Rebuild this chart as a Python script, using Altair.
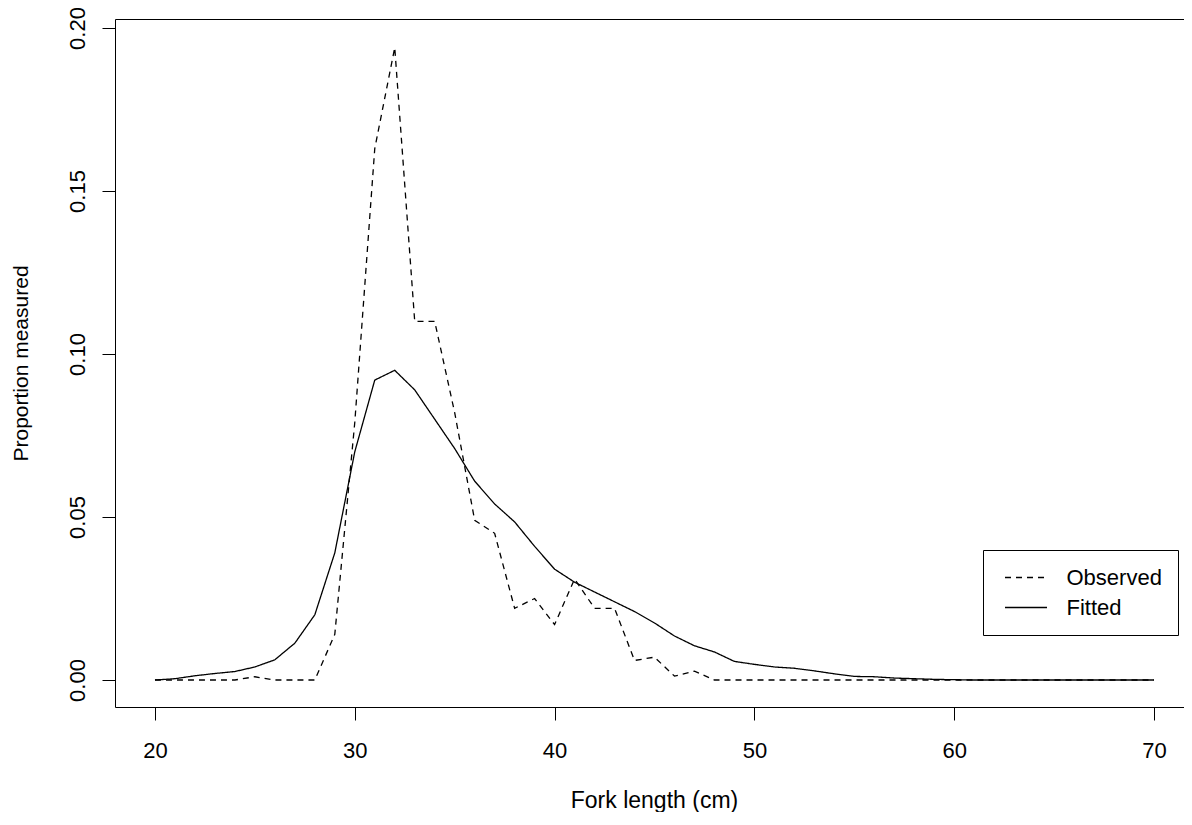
import altair as alt
import pandas as pd

FONT = "Liberation Sans"

# Fork length (cm)
lengths = [20, 21, 22, 23, 24, 25, 26, 27, 28, 29,
           30, 31, 32, 33, 34, 35, 36, 37, 38, 39,
           40, 41, 42, 43, 44, 45, 46, 47, 48, 49,
           50, 51, 52, 53, 54, 55, 56, 57, 58, 59,
           60, 61, 62, 63, 64, 65, 66, 67, 68, 69, 70]

observed = [0.0, 0.0, 0.0, 0.0, 0.0, 0.001, 0.0, 0.0, 0.0, 0.014,
            0.079, 0.163, 0.194, 0.110, 0.110, 0.082, 0.049, 0.045, 0.022, 0.025,
            0.017, 0.031, 0.022, 0.022, 0.006, 0.007, 0.0012, 0.0027, 0.0, 0.0,
            0.0, 0.0, 0.0, 0.0, 0.0, 0.0, 0.0, 0.0, 0.0, 0.0,
            0.0, 0.0, 0.0, 0.0, 0.0, 0.0, 0.0, 0.0, 0.0, 0.0, 0.0]

fitted = [0.0, 0.0004, 0.0013, 0.002, 0.0026, 0.004, 0.0062, 0.0113, 0.020, 0.039,
          0.070, 0.092, 0.095, 0.089, 0.080, 0.071, 0.061, 0.054, 0.0485, 0.041,
          0.034, 0.030, 0.027, 0.024, 0.021, 0.0175, 0.0135, 0.0105, 0.0086, 0.0057,
          0.0048, 0.004, 0.0036, 0.0028, 0.0019, 0.0011, 0.001, 0.0006, 0.0004, 0.0002,
          0.0001, 0.0, 0.0, 0.0, 0.0, 0.0, 0.0, 0.0, 0.0, 0.0, 0.0]

series_names = ["Observed", "Fitted"]
x_ticks = [20, 30, 40, 50, 60, 70]
y_ticks = [0.0, 0.05, 0.10, 0.15, 0.20]

df = pd.DataFrame({
    "length": lengths + lengths,
    "proportion": observed + fitted,
    "series": [series_names[0]] * len(lengths) + [series_names[1]] * len(lengths),
})

x_scale = alt.Scale(domain=[18, 71.5], nice=False, zero=False)
y_scale = alt.Scale(domain=[-0.00828, 0.20276], nice=False, zero=False)

y_enc = alt.Y(
    "proportion:Q",
    scale=y_scale,
    axis=alt.Axis(
        values=y_ticks, format=".2f", title="Proportion measured",
        labelAngle=270, labelAlign="center", labelBaseline="alphabetic",
        labelPadding=18, tickSize=13, labelFontSize=22,
        titleFontSize=21, titleAngle=270, titleBaseline="alphabetic",
        titleX=-88, titleY=344, titleAlign="center",
    ),
)

lines = alt.Chart(df).mark_line(color="black", strokeWidth=1.3).encode(
    x=alt.X(
        "length:Q",
        scale=x_scale,
        axis=alt.Axis(
            values=x_ticks, title="Fork length  (cm)", tickSize=13,
            labelPadding=20, labelBaseline="top", labelFontSize=22,
            labelFlush=False, titleFontSize=23, titleBaseline="alphabetic",
            titleY=100, titleX=539, titleAlign="center",
        ),
    ),
    y=y_enc,
    strokeDash=alt.StrokeDash(
        "series:N",
        scale=alt.Scale(domain=series_names, range=[[6, 5], [1, 0]]),
        legend=alt.Legend(
            title=None, orient="none", legendX=868, legendY=531,
            symbolType="M-2,0H2", symbolSize=441, symbolStrokeWidth=1.3,
            symbolStrokeColor="black", labelFontSize=22, labelFont=FONT,
            labelColor="black", padding=16, strokeColor="black",
            fillColor="white", rowPadding=7, symbolOffset=15.5, labelOffset=29,
        ),
    ),
)

top_border = alt.Chart(df).mark_line(opacity=0).encode(
    x=alt.X(
        "length:Q",
        scale=x_scale,
        axis=alt.Axis(orient="top", labels=False, ticks=False, domain=True,
                      title=None, grid=False),
    ),
    y=y_enc,
)

chart = (
    alt.layer(lines, top_border)
    .resolve_axis(x="independent")
    .properties(
        width=1069,
        height=688,
        autosize=alt.AutoSizeParams(type="none"),
        padding={"left": 107, "top": 11, "right": 0, "bottom": 105},
        background="white",
    )
    .configure_view(stroke="transparent")
    .configure_axis(
        grid=False, domainColor="black", tickColor="black", labelColor="black",
        titleColor="black", labelFont=FONT, titleFont=FONT,
        titleFontWeight="normal", domainWidth=1, tickWidth=1,
    )
)

chart.save("out.html", embed_options={"renderer": "svg", "actions": False})
